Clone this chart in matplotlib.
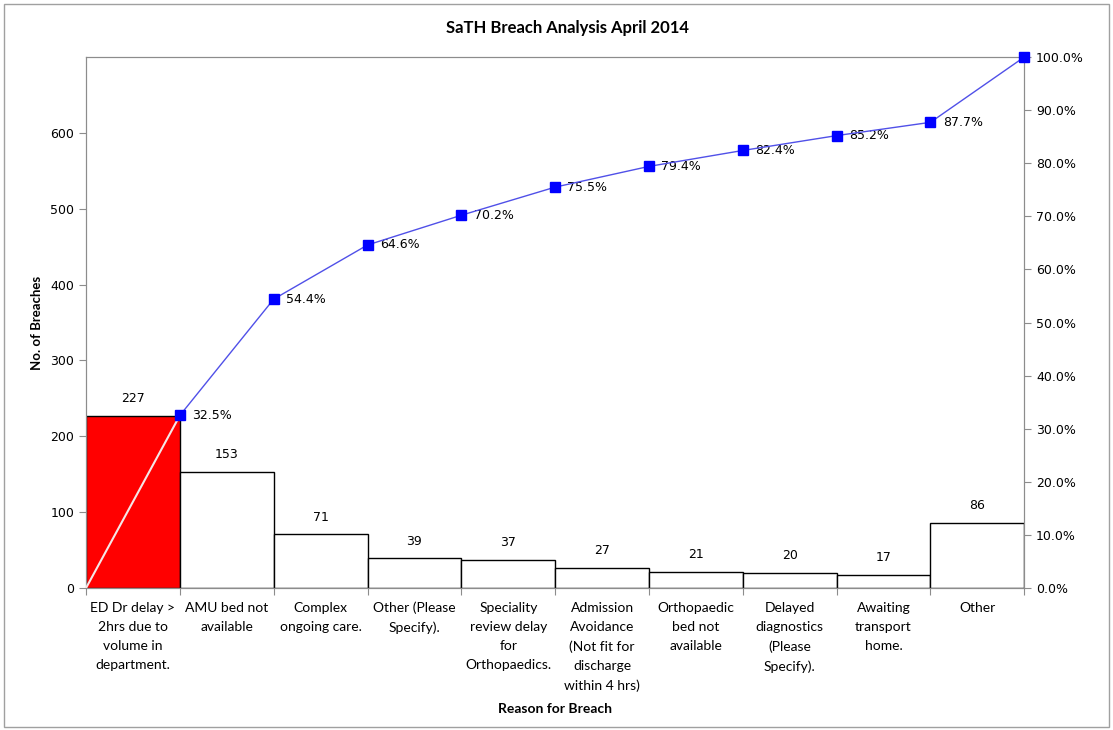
import matplotlib
matplotlib.use("Agg")
import matplotlib.pyplot as plt
from matplotlib.ticker import FuncFormatter
import numpy as np

categories = [
    "ED Dr delay >\n2hrs due to\nvolume in\ndepartment.",
    "AMU bed not\navailable",
    "Complex\nongoing care.",
    "Other (Please\nSpecify).",
    "Speciality\nreview delay\nfor\nOrthopaedics.",
    "Admission\nAvoidance\n(Not fit for\ndischarge\nwithin 4 hrs)",
    "Orthopaedic\nbed not\navailable",
    "Delayed\ndiagnostics\n(Please\nSpecify).",
    "Awaiting\ntransport\nhome.",
    "Other",
]
breaches = [227, 153, 71, 39, 37, 27, 21, 20, 17, 86]
cum_pct = [32.5, 54.4, 64.6, 70.2, 75.5, 79.4, 82.4, 85.2, 87.7, 100.0]

label_font = ["Lato", "DejaVu Sans"]
grey = "#8c8c8c"

fig = plt.figure(figsize=(11.13, 7.30), dpi=100)
fig.patches.append(plt.Rectangle((0.004, 0.004), 0.992, 0.99, transform=fig.transFigure,
                                 fill=False, edgecolor="#a0a0a0", lw=1))
ax = fig.add_axes([0.0773, 0.1945, 0.843, 0.7274])

x = np.arange(len(breaches))
colors = ["#ff0000"] + ["white"] * (len(breaches) - 1)
ax.bar(x + 0.5, breaches, width=1.0, color=colors, edgecolor="black", linewidth=1.0, zorder=2)
for xi, v in zip(x, breaches):
    ax.text(xi + 0.5, v + 14, str(v), ha="center", va="bottom", fontsize=9, family="DejaVu Sans")

ax.set_xlim(0, len(breaches))
ax.set_ylim(0, 700)
ax.set_yticks(range(0, 700, 100))
ax.set_xticks(np.arange(0, len(breaches) + 1))
ax.set_xticklabels([])
ax.set_xticks(x + 0.5, minor=True)
ax.set_xticklabels(categories, minor=True, fontsize=10, family=label_font, linespacing=1.7, va="top")
ax.tick_params(axis="x", which="minor", length=0, pad=10)
ax.tick_params(axis="x", which="major", length=5, color=grey)
ax.tick_params(axis="y", length=5, color=grey, labelsize=9)
for s in ax.spines.values():
    s.set_color(grey)
ax.set_ylabel("No. of Breaches", fontsize=9.5, fontweight="bold", family=label_font, labelpad=5)
ax.set_xlabel("Reason for Breach", fontsize=10, fontweight="bold", family=label_font, labelpad=8)

ax2 = ax.twinx()
ax2.set_ylim(0, 100)
ax2.set_yticks(range(0, 101, 10))
ax2.yaxis.set_major_formatter(FuncFormatter(lambda v, p: f"{v:.1f}%"))
ax2.tick_params(axis="y", length=5, color=grey, labelsize=9)
for s in ax2.spines.values():
    s.set_color(grey)

px = x + 1
ax2.plot([0, px[0]], [0, cum_pct[0]], color="#f4e6e6", lw=1.5, zorder=3)
ax2.plot(px, cum_pct, color="#5050e8", lw=1.0, marker="s", markersize=6.5,
         markerfacecolor="#0000ff", markeredgecolor="#0000ff", zorder=4, clip_on=False)
for xi, v in zip(px[:-1], cum_pct[:-1]):
    ax2.text(xi + 0.13, v, f"{v:.1f}%", ha="left", va="center", fontsize=9, family="DejaVu Sans")

fig.text(0.51, 0.961, "SaTH Breach Analysis April 2014", ha="center", va="center",
         fontsize=12, fontweight="bold", family=label_font)

fig.savefig("out.png", dpi=100)
